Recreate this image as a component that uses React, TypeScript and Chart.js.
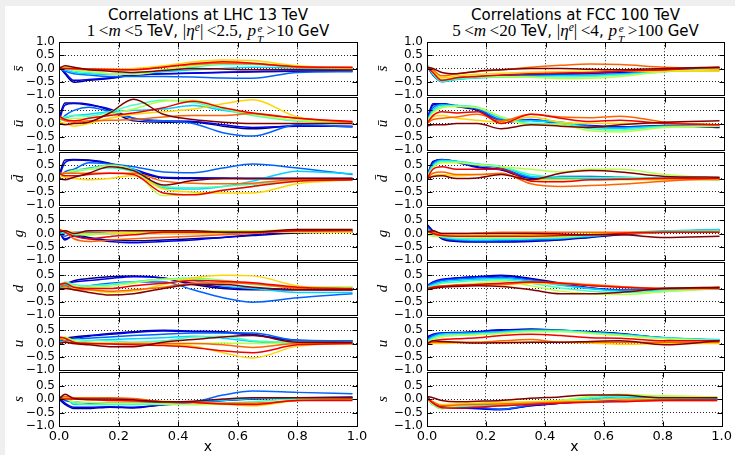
import React, { useEffect, useRef } from 'react';
import { Chart, registerables } from 'chart.js';

Chart.register(...registerables);

// ---------- data ----------
const X_VALUES = [0, 0.02, 0.05, 0.1, 0.17, 0.25, 0.35, 0.45, 0.55, 0.65, 0.8, 0.985];
const Y_TICKS = [-1, -0.5, 0, 0.5, 1];
const X_TICKS = [0, 0.2, 0.4, 0.6, 0.8, 1];
const SERIES_COLORS = ['#000080', '#0000f1', '#0063ff', '#00d5ff', '#47ffb8', '#b8ff47', '#ffd500', '#ff6300', '#f10000', '#800000'];
const PANEL_LABELS = ['s\u0304', 'u\u0304', 'd\u0304', 'g', 'd', 'u', 's'];

// LHC 13 TeV
const LHC_SBAR = [
  [0.1, -0.2, -0.52, -0.45, -0.38, -0.26, -0.2, -0.17, -0.14, -0.12, -0.1, -0.1],
  [0.05, -0.15, -0.45, -0.42, -0.35, -0.24, -0.2, -0.18, -0.15, -0.12, -0.1, -0.08],
  [0.0, -0.1, -0.2, -0.25, -0.3, -0.3, -0.3, -0.32, -0.36, -0.37, -0.15, -0.12],
  [0.0, -0.05, -0.15, -0.2, -0.22, -0.2, -0.12, -0.05, 0.0, 0.05, 0.02, -0.05],
  [0.0, 0.0, -0.1, -0.15, -0.2, -0.22, -0.08, 0.05, 0.15, 0.15, 0.05, 0.03],
  [0.0, 0.05, -0.05, -0.1, -0.2, -0.22, -0.05, 0.1, 0.2, 0.2, 0.07, 0.05],
  [0.0, 0.0, 0.0, -0.02, -0.02, 0.0, 0.1, 0.25, 0.32, 0.3, 0.1, 0.0],
  [0.0, 0.0, -0.02, -0.05, -0.05, -0.05, 0.05, 0.15, 0.2, 0.18, 0.06, 0.03],
  [0.0, 0.0, 0.0, -0.02, -0.04, -0.05, 0.05, 0.18, 0.26, 0.2, 0.07, 0.05],
  [0.0, 0.1, 0.05, -0.05, -0.1, -0.15, -0.08, 0.0, -0.02, -0.05, -0.05, -0.06],
];
const LHC_UBAR = [
  [0.2, 0.78, 0.78, 0.73, 0.5, 0.1, 0.05, 0.05, -0.1, -0.2, -0.08, -0.12],
  [0.1, 0.7, 0.76, 0.7, 0.55, 0.2, 0.1, 0.08, -0.05, -0.15, -0.1, -0.1],
  [0.05, 0.3, 0.5, 0.62, 0.45, 0.2, 0.1, 0.0, -0.35, -0.48, -0.05, -0.12],
  [0.1, 0.2, 0.3, 0.35, 0.45, 0.5, 0.55, 0.68, 0.5, 0.35, 0.1, 0.05],
  [0.2, 0.25, 0.3, 0.28, 0.45, 0.7, 0.88, 0.8, 0.55, 0.3, 0.1, 0.02],
  [0.1, 0.15, 0.2, 0.2, 0.35, 0.55, 0.85, 0.88, 0.6, 0.35, 0.12, 0.05],
  [0.05, 0.0, -0.1, 0.0, 0.2, 0.35, 0.45, 0.55, 0.75, 0.9, 0.25, 0.05],
  [0.2, 0.1, 0.05, 0.1, 0.12, 0.15, 0.25, 0.3, 0.3, 0.38, 0.2, 0.05],
  [0.3, 0.15, 0.1, 0.2, 0.3, 0.4, 0.6, 0.85, 0.6, 0.4, 0.2, 0.08],
  [0.0, -0.05, 0.0, 0.05, 0.4, 0.92, 0.35, 0.15, 0.05, 0.0, 0.0, 0.0],
];
const LHC_DBAR = [
  [0.1, 0.7, 0.72, 0.7, 0.58, 0.3, 0.02, 0.0, 0.0, 0.0, 0.0, 0.0],
  [0.05, 0.6, 0.7, 0.68, 0.55, 0.35, 0.05, 0.03, 0.02, 0.0, 0.0, 0.0],
  [0.0, 0.25, 0.35, 0.6, 0.55, 0.45, 0.25, 0.22, 0.4, 0.55, 0.4, 0.15],
  [0.1, 0.2, 0.3, 0.4, 0.5, 0.35, -0.35, -0.4, -0.3, -0.1, 0.28, 0.18],
  [0.15, 0.2, 0.25, 0.35, 0.4, 0.25, -0.3, -0.35, -0.3, -0.22, -0.1, -0.05],
  [0.1, 0.2, 0.3, 0.35, 0.5, 0.3, -0.65, -0.6, -0.45, -0.3, -0.1, -0.05],
  [0.1, 0.05, 0.0, -0.05, 0.0, 0.1, -0.4, -0.52, -0.55, -0.55, -0.2, -0.05],
  [0.2, 0.2, 0.2, 0.2, 0.2, 0.2, -0.1, -0.18, -0.2, -0.18, -0.05, -0.05],
  [0.2, 0.1, 0.1, 0.15, 0.2, 0.15, -0.55, -0.62, -0.45, -0.3, -0.1, -0.05],
  [0.0, -0.05, 0.05, 0.2, 0.45, 0.3, -0.25, -0.08, 0.0, 0.0, 0.0, 0.0],
];
const LHC_G = [
  [0.1, -0.25, -0.05, -0.15, -0.25, -0.28, -0.25, -0.2, -0.15, -0.08, 0.02, 0.05],
  [0.05, -0.2, -0.1, -0.2, -0.3, -0.35, -0.3, -0.25, -0.15, -0.05, 0.05, 0.08],
  [0.0, -0.1, 0.05, 0.05, 0.0, 0.0, 0.0, 0.0, 0.0, 0.05, 0.1, 0.1],
  [0.05, 0.0, 0.0, 0.0, 0.0, 0.05, 0.05, 0.05, 0.05, 0.05, 0.1, 0.1],
  [0.1, 0.05, -0.05, -0.05, 0.0, 0.05, 0.05, 0.05, 0.05, 0.05, 0.1, 0.1],
  [0.1, 0.1, 0.0, -0.05, 0.0, 0.05, 0.08, 0.1, 0.1, 0.1, 0.15, 0.15],
  [0.15, 0.1, 0.05, 0.0, 0.0, 0.0, 0.0, 0.0, 0.02, 0.05, 0.05, 0.05],
  [0.15, 0.05, -0.2, -0.3, -0.25, -0.2, -0.15, -0.1, -0.05, 0.0, 0.1, 0.1],
  [0.15, 0.05, -0.1, -0.2, -0.12, -0.05, 0.05, 0.05, 0.05, 0.05, 0.1, 0.12],
  [0.05, 0.1, 0.0, 0.1, 0.1, 0.1, 0.1, 0.1, 0.05, 0.05, 0.15, 0.15],
];
const LHC_D = [
  [0.05, 0.15, 0.3, 0.38, 0.45, 0.48, 0.4, 0.15, 0.0, -0.05, -0.05, -0.05],
  [0.1, 0.2, 0.25, 0.3, 0.38, 0.45, 0.4, 0.2, 0.05, 0.0, -0.03, -0.05],
  [0.0, 0.1, 0.0, 0.1, 0.2, 0.25, 0.25, -0.05, -0.35, -0.52, -0.35, -0.2],
  [0.05, 0.15, 0.05, 0.1, 0.15, 0.25, 0.35, 0.3, 0.1, 0.0, -0.15, -0.15],
  [0.1, 0.25, 0.15, 0.1, 0.15, 0.25, 0.35, 0.4, 0.3, 0.15, 0.05, 0.05],
  [0.15, 0.2, 0.1, 0.05, 0.08, 0.2, 0.35, 0.35, 0.3, 0.18, 0.05, 0.05],
  [0.0, 0.05, 0.0, -0.05, -0.15, -0.1, 0.15, 0.4, 0.5, 0.48, 0.1, 0.0],
  [0.15, 0.1, -0.05, -0.05, -0.1, -0.05, 0.05, 0.2, 0.22, 0.18, 0.0, -0.05],
  [0.15, 0.2, 0.05, 0.0, 0.0, 0.1, 0.2, 0.3, 0.28, 0.22, 0.05, 0.0],
  [0.0, 0.0, -0.05, -0.15, -0.25, -0.2, 0.0, 0.15, 0.15, 0.05, -0.05, -0.05],
];
const LHC_U = [
  [0.1, 0.2, 0.25, 0.3, 0.38, 0.45, 0.5, 0.47, 0.45, 0.35, 0.1, 0.1],
  [0.05, 0.15, 0.2, 0.28, 0.35, 0.42, 0.48, 0.45, 0.42, 0.32, 0.12, 0.08],
  [0.05, 0.1, 0.15, 0.2, 0.25, 0.3, 0.35, 0.4, 0.4, 0.4, 0.12, 0.1],
  [0.1, 0.05, 0.05, 0.1, 0.15, 0.18, 0.22, 0.28, 0.2, 0.08, 0.0, 0.05],
  [0.2, 0.15, 0.15, 0.12, 0.1, 0.05, 0.1, 0.25, 0.28, 0.1, 0.05, 0.05],
  [0.2, 0.25, 0.1, 0.05, 0.0, 0.0, 0.0, 0.0, 0.02, 0.0, 0.0, 0.0],
  [0.15, 0.2, 0.05, 0.0, 0.0, 0.0, -0.02, -0.1, -0.35, -0.55, -0.1, 0.0],
  [0.2, 0.1, 0.0, 0.0, 0.0, 0.0, 0.0, 0.0, -0.05, -0.15, 0.0, 0.0],
  [0.25, 0.2, 0.05, 0.0, -0.02, -0.05, -0.08, -0.15, -0.28, -0.35, -0.05, 0.0],
  [0.0, 0.05, 0.0, -0.05, -0.12, -0.12, 0.05, 0.15, 0.25, 0.3, 0.05, 0.05],
];
const LHC_S = [
  [0.0, -0.2, -0.35, -0.35, -0.3, -0.33, -0.2, -0.12, -0.05, 0.0, 0.05, 0.08],
  [0.05, -0.15, -0.3, -0.3, -0.28, -0.3, -0.22, -0.12, -0.05, 0.02, 0.05, 0.05],
  [0.05, -0.05, -0.1, -0.15, -0.15, -0.15, -0.12, -0.1, 0.15, 0.3, 0.25, 0.2],
  [0.05, 0.1, -0.2, -0.2, -0.2, -0.2, -0.15, -0.1, -0.05, 0.02, 0.05, 0.05],
  [0.05, 0.05, -0.15, -0.2, -0.2, -0.2, -0.2, -0.2, -0.15, -0.1, 0.0, 0.0],
  [0.0, 0.0, -0.1, -0.12, -0.15, -0.15, -0.18, -0.2, -0.2, -0.18, -0.05, 0.0],
  [0.0, 0.05, 0.0, -0.02, -0.05, -0.05, -0.08, -0.12, -0.18, -0.25, -0.05, 0.0],
  [0.0, 0.1, 0.05, 0.05, 0.05, 0.02, -0.1, -0.12, -0.15, -0.15, -0.05, 0.0],
  [0.0, 0.0, 0.0, -0.02, -0.05, -0.07, -0.1, -0.13, -0.18, -0.2, -0.05, -0.05],
  [0.0, 0.18, 0.02, 0.0, 0.0, -0.02, -0.1, -0.08, 0.0, 0.05, 0.05, 0.05],
];

// FCC 100 TeV
const FCC_SBAR = [
  [0.1, -0.2, -0.45, -0.35, -0.3, -0.27, -0.22, -0.2, -0.17, -0.12, -0.08, -0.05],
  [0.1, -0.25, -0.48, -0.38, -0.32, -0.28, -0.25, -0.22, -0.18, -0.15, -0.08, -0.03],
  [0.1, -0.25, -0.5, -0.4, -0.35, -0.3, -0.27, -0.25, -0.25, -0.2, -0.1, 0.0],
  [0.15, -0.2, -0.5, -0.42, -0.35, -0.32, -0.3, -0.28, -0.27, -0.22, -0.1, 0.0],
  [0.15, -0.2, -0.48, -0.4, -0.35, -0.33, -0.32, -0.32, -0.3, -0.25, -0.12, -0.03],
  [0.1, -0.15, -0.42, -0.35, -0.3, -0.3, -0.33, -0.38, -0.37, -0.3, -0.12, -0.05],
  [0.05, -0.1, -0.35, -0.28, -0.22, -0.18, -0.14, -0.12, -0.1, -0.1, -0.1, -0.1],
  [0.05, -0.05, -0.28, -0.2, -0.12, -0.05, 0.05, 0.12, 0.17, 0.15, 0.05, 0.0],
  [0.05, -0.15, -0.45, -0.35, -0.3, -0.25, -0.2, -0.17, -0.15, -0.1, -0.05, 0.05],
  [0.05, 0.0, -0.15, -0.2, -0.1, -0.05, 0.0, 0.0, -0.03, -0.05, 0.0, 0.05],
];
const FCC_UBAR = [
  [0.1, 0.7, 0.75, 0.65, 0.5, 0.05, 0.12, -0.02, -0.1, -0.12, -0.08, -0.15],
  [0.15, 0.75, 0.75, 0.68, 0.55, 0.1, 0.15, 0.0, -0.08, -0.12, -0.1, -0.12],
  [0.1, 0.6, 0.72, 0.65, 0.55, 0.15, 0.12, 0.05, -0.1, -0.15, -0.1, -0.1],
  [0.1, 0.5, 0.7, 0.68, 0.6, 0.2, 0.1, 0.05, -0.15, -0.18, -0.1, -0.1],
  [0.05, 0.45, 0.65, 0.68, 0.62, 0.25, 0.0, 0.0, -0.2, -0.25, -0.12, -0.1],
  [0.05, 0.4, 0.6, 0.65, 0.6, 0.25, -0.05, -0.05, -0.28, -0.32, -0.15, -0.1],
  [0.0, 0.25, 0.3, 0.2, 0.12, 0.05, 0.25, 0.05, 0.0, 0.0, 0.0, -0.05],
  [0.0, 0.15, 0.2, 0.25, 0.35, 0.1, 0.35, 0.25, 0.22, 0.28, 0.05, -0.05],
  [0.0, 0.3, 0.45, 0.4, 0.45, 0.0, 0.35, 0.2, 0.08, 0.12, 0.0, -0.05],
  [-0.1, -0.05, -0.05, 0.0, 0.0, -0.2, -0.05, -0.1, -0.15, -0.05, 0.05, 0.1],
];
const FCC_DBAR = [
  [0.05, 0.65, 0.7, 0.65, 0.45, 0.32, 0.0, 0.05, 0.05, 0.03, 0.0, 0.0],
  [0.1, 0.6, 0.72, 0.62, 0.42, 0.35, 0.02, 0.08, 0.08, 0.05, 0.0, 0.0],
  [0.1, 0.55, 0.7, 0.65, 0.5, 0.4, 0.05, 0.05, 0.03, 0.0, 0.0, 0.0],
  [0.1, 0.5, 0.68, 0.66, 0.55, 0.45, 0.08, 0.0, 0.0, 0.0, -0.02, -0.05],
  [0.05, 0.45, 0.65, 0.65, 0.55, 0.45, 0.15, 0.05, 0.05, 0.05, 0.0, -0.05],
  [0.05, 0.4, 0.6, 0.6, 0.52, 0.45, 0.35, 0.25, 0.35, 0.35, 0.15, 0.0],
  [0.0, 0.1, 0.15, 0.1, 0.15, 0.18, -0.05, -0.05, -0.05, -0.05, -0.05, -0.05],
  [0.0, 0.2, 0.25, 0.15, 0.15, 0.2, -0.2, -0.3, -0.27, -0.22, -0.1, 0.0],
  [0.0, 0.35, 0.45, 0.35, 0.35, 0.35, -0.1, -0.12, -0.05, -0.03, 0.0, 0.0],
  [0.0, 0.08, 0.1, 0.0, 0.02, 0.15, -0.05, 0.2, 0.3, 0.25, 0.08, 0.05],
];
const FCC_G = [
  [0.35, 0.1, -0.2, -0.3, -0.32, -0.32, -0.3, -0.25, -0.15, -0.05, 0.05, 0.1],
  [0.3, 0.05, -0.15, -0.28, -0.3, -0.3, -0.28, -0.22, -0.12, -0.03, 0.08, 0.12],
  [0.25, 0.05, -0.15, -0.25, -0.28, -0.27, -0.25, -0.2, -0.1, -0.02, 0.08, 0.12],
  [0.2, 0.0, -0.12, -0.22, -0.25, -0.23, -0.2, -0.18, -0.1, 0.0, 0.1, 0.15],
  [0.1, -0.05, -0.12, -0.18, -0.2, -0.2, -0.18, -0.15, -0.08, 0.0, 0.08, 0.1],
  [-0.05, -0.1, -0.1, -0.12, -0.15, -0.15, -0.15, -0.12, -0.05, 0.0, 0.05, 0.05],
  [0.05, 0.0, -0.05, -0.08, -0.08, -0.08, -0.05, -0.05, -0.02, 0.0, 0.05, 0.05],
  [0.1, 0.05, 0.0, 0.0, 0.02, 0.05, 0.05, 0.05, 0.05, 0.05, 0.05, 0.05],
  [0.1, 0.0, -0.08, -0.1, -0.1, -0.1, -0.1, -0.08, -0.05, 0.0, 0.05, 0.05],
  [0.05, 0.1, 0.0, 0.0, 0.0, 0.0, 0.0, -0.02, -0.05, -0.05, -0.15, -0.1],
];
const FCC_D = [
  [0.1, 0.2, 0.32, 0.4, 0.45, 0.5, 0.38, 0.2, 0.02, -0.05, 0.0, 0.02],
  [0.1, 0.25, 0.35, 0.4, 0.45, 0.48, 0.35, 0.18, 0.02, -0.05, 0.0, 0.0],
  [0.1, 0.2, 0.3, 0.35, 0.4, 0.42, 0.32, 0.15, 0.0, -0.05, 0.0, 0.0],
  [0.05, 0.15, 0.25, 0.3, 0.35, 0.38, 0.28, 0.12, 0.0, -0.1, -0.05, 0.0],
  [0.05, 0.1, 0.2, 0.25, 0.3, 0.33, 0.2, 0.02, -0.1, -0.15, -0.1, 0.0],
  [0.0, 0.05, 0.1, 0.15, 0.2, 0.28, 0.1, -0.1, -0.2, -0.23, -0.12, 0.0],
  [0.0, 0.05, 0.1, 0.12, 0.15, 0.15, 0.2, 0.18, 0.12, 0.05, 0.0, 0.02],
  [-0.05, 0.05, 0.1, 0.12, 0.15, 0.15, 0.25, 0.22, 0.15, 0.08, 0.0, 0.05],
  [0.0, 0.05, 0.08, 0.12, 0.15, 0.2, 0.25, 0.2, 0.1, 0.05, 0.0, 0.0],
  [-0.05, 0.0, 0.05, 0.08, 0.1, 0.08, -0.05, -0.2, -0.2, -0.15, 0.0, 0.05],
];
const FCC_U = [
  [0.2, 0.3, 0.4, 0.42, 0.45, 0.5, 0.55, 0.5, 0.45, 0.38, 0.2, 0.1],
  [0.25, 0.35, 0.4, 0.4, 0.45, 0.52, 0.52, 0.5, 0.42, 0.35, 0.2, 0.12],
  [0.15, 0.3, 0.38, 0.38, 0.42, 0.45, 0.5, 0.48, 0.42, 0.35, 0.22, 0.12],
  [0.1, 0.25, 0.35, 0.38, 0.4, 0.45, 0.5, 0.5, 0.42, 0.35, 0.22, 0.15],
  [0.05, 0.2, 0.3, 0.32, 0.35, 0.4, 0.48, 0.48, 0.4, 0.32, 0.2, 0.12],
  [0.05, 0.15, 0.25, 0.3, 0.33, 0.38, 0.45, 0.45, 0.38, 0.3, 0.18, 0.1],
  [0.0, 0.0, 0.0, 0.02, 0.05, 0.05, 0.05, 0.05, 0.02, -0.03, 0.0, 0.0],
  [0.0, 0.05, 0.05, 0.05, 0.05, 0.1, 0.15, 0.05, 0.05, 0.05, 0.05, 0.05],
  [0.0, 0.1, 0.15, 0.18, 0.22, 0.3, 0.35, 0.3, 0.22, 0.2, 0.1, 0.1],
  [0.0, 0.1, 0.08, 0.05, 0.02, 0.03, 0.05, 0.05, 0.08, 0.1, -0.05, 0.1],
];
const FCC_S = [
  [0.1, -0.15, -0.28, -0.32, -0.35, -0.38, -0.25, -0.15, -0.08, -0.03, 0.0, 0.0],
  [0.05, -0.2, -0.3, -0.33, -0.35, -0.4, -0.25, -0.15, -0.08, -0.02, 0.0, 0.0],
  [0.05, -0.2, -0.32, -0.3, -0.3, -0.38, -0.22, -0.12, -0.05, 0.0, 0.0, 0.0],
  [0.05, -0.2, -0.35, -0.28, -0.25, -0.25, -0.15, -0.08, 0.0, 0.08, 0.05, 0.05],
  [0.05, -0.2, -0.35, -0.28, -0.22, -0.2, -0.12, -0.05, 0.05, 0.12, 0.1, 0.08],
  [0.0, -0.2, -0.35, -0.25, -0.2, -0.18, -0.12, -0.05, 0.1, 0.18, 0.12, 0.08],
  [0.0, -0.1, -0.2, -0.18, -0.15, -0.12, -0.1, -0.07, -0.05, 0.0, 0.02, 0.05],
  [0.0, -0.1, -0.25, -0.22, -0.2, -0.18, -0.15, -0.12, -0.1, -0.07, -0.05, -0.05],
  [0.05, -0.15, -0.32, -0.33, -0.3, -0.25, -0.2, -0.15, -0.12, -0.1, -0.05, -0.05],
  [0.1, 0.05, -0.05, -0.1, -0.08, -0.05, 0.03, 0.08, 0.15, 0.15, 0.05, 0.05],
];

const LHC_PANELS = [LHC_SBAR, LHC_UBAR, LHC_DBAR, LHC_G, LHC_D, LHC_U, LHC_S];
const FCC_PANELS = [FCC_SBAR, FCC_UBAR, FCC_DBAR, FCC_G, FCC_D, FCC_U, FCC_S];

// ---------- layout ----------
const COLS = [
  { canvasLeft: 0, chartLeft: 59, chartRight: 357, padRight: 14, titlePad: 10 },
  { canvasLeft: 369, chartLeft: 427, chartRight: 724, padRight: 11, titlePad: 5 },
];
const FIRST_TOP = 41;
const PANEL_H = 55;
const PAD_V = 10;
const FIG_H = 455;

const SANS = '"DejaVu Sans", sans-serif';
const SERIF = '"Liberation Serif", "DejaVu Serif", serif';

const fmt = (v: number) => (v < 0 ? '\u2212' : '') + Math.abs(v).toFixed(1);

const framePlugin = {
  id: 'frame',
  afterDatasetsDraw(chart: any) {
    const { ctx, chartArea: a, scales } = chart;
    const L = Math.round(a.left) + 0.5;
    const R = Math.round(a.right) + 0.5;
    const T = Math.round(a.top) + 0.5;
    const B = Math.round(a.bottom) + 0.5;
    ctx.save();
    ctx.strokeStyle = '#000';
    ctx.lineWidth = 1;
    ctx.setLineDash([]);
    ctx.strokeRect(L, T, R - L, B - T);
    ctx.beginPath();
    [-0.5, 0, 0.5].forEach((v) => {
      const y = Math.round(scales.y.getPixelForValue(v)) + 0.5;
      ctx.moveTo(L, y); ctx.lineTo(L + 5, y);
      ctx.moveTo(R, y); ctx.lineTo(R - 5, y);
    });
    [0.2, 0.4, 0.6, 0.8].forEach((v) => {
      const x = Math.round(scales.x.getPixelForValue(v)) + 0.5;
      ctx.moveTo(x, T); ctx.lineTo(x, T + 5);
      ctx.moveTo(x, B); ctx.lineTo(x, B - 5);
    });
    ctx.stroke();
    ctx.restore();
  },
};

function Panel({ series, row, col }: { series: number[][]; row: number; col: number }) {
  const ref = useRef<HTMLCanvasElement | null>(null);
  const g = COLS[col];
  const isTop = row === 0;
  const isBottom = row === 6;
  const top = FIRST_TOP + PANEL_H * row - PAD_V;
  const height = isBottom ? FIG_H - top : PANEL_H + 2 * PAD_V;
  const width = g.chartRight + g.padRight - g.canvasLeft;

  useEffect(() => {
    const chart = new Chart(ref.current as HTMLCanvasElement, {
      type: 'line',
      data: {
        datasets: series.map((ys, k) => ({
          data: ys.map((y, i) => ({ x: X_VALUES[i], y })),
          borderColor: SERIES_COLORS[k],
          borderWidth: 1.5,
          pointRadius: 0,
          fill: false,
          cubicInterpolationMode: 'monotone',
          order: SERIES_COLORS.length - k,
        })),
      },
      options: {
        responsive: false,
        animation: false,
        events: [],
        layout: { padding: { top: PAD_V, bottom: isBottom ? 0 : PAD_V, left: 0, right: g.padRight } },
        plugins: { legend: { display: false }, tooltip: { enabled: false }, title: { display: false } },
        scales: {
          x: {
            type: 'linear',
            min: 0,
            max: 1,
            afterBuildTicks: (s: any) => { s.ticks = X_TICKS.map((v) => ({ value: v })); },
            afterFit: (s: any) => { s.height = isBottom ? height - PAD_V - PANEL_H : 0; },
            ticks: {
              display: isBottom,
              autoSkip: false,
              maxRotation: 0,
              padding: 3,
              color: '#000',
              font: { family: SANS, size: 13 },
              callback: (v: any) => fmt(Number(v)),
            },
            grid: {
              drawTicks: false,
              lineWidth: 1,
              color: (c: any) => (c.tick && (c.tick.value === 0 || c.tick.value === 1) ? 'rgba(0,0,0,0)' : 'rgba(0,0,0,0.85)'),
            },
            border: { display: false, dash: [1, 2] },
            title: { display: isBottom, text: 'x', color: '#000', font: { family: SANS, size: 14 }, padding: { top: 0, bottom: -1 } },
          },
          y: {
            min: -1,
            max: 1,
            afterBuildTicks: (s: any) => { s.ticks = Y_TICKS.map((v) => ({ value: v })); },
            afterFit: (s: any) => { s.width = g.chartLeft - g.canvasLeft; },
            ticks: {
              autoSkip: false,
              padding: 4,
              color: '#000',
              font: { family: SANS, size: 12 },
              callback: (v: any) => (Number(v) === 1 && !isTop ? '' : fmt(Number(v))),
            },
            grid: {
              drawTicks: false,
              lineWidth: 1,
              color: (c: any) => (c.tick && Math.abs(c.tick.value) === 1 ? 'rgba(0,0,0,0)' : 'rgba(0,0,0,0.85)'),
            },
            border: { display: false, dash: [1, 2] },
            title: {
              display: true,
              text: PANEL_LABELS[row],
              color: '#000',
              font: { family: SERIF, style: 'italic', size: 15 },
              padding: { top: g.titlePad, bottom: 0 },
            },
          },
        },
      } as any,
      plugins: [framePlugin],
    });
    return () => chart.destroy();
  }, []);

  return (
    <canvas
      ref={ref}
      width={width}
      height={height}
      style={{ position: 'absolute', left: g.canvasLeft, top, width, height, display: 'block' }}
    />
  );
}

const mathS: React.CSSProperties = { fontFamily: SERIF, fontSize: '1.14em' };
const supS: React.CSSProperties = { fontSize: '0.68em', verticalAlign: '0.45em', lineHeight: 0 };

function PTe() {
  return (
    <span style={mathS}>
      <i>p</i>
      <span style={{ display: 'inline-flex', flexDirection: 'column', fontSize: '0.65em', lineHeight: 1, verticalAlign: '0.4em', marginLeft: 1 }}>
        <i>e</i>
        <i>T</i>
      </span>
    </span>
  );
}

function Subtitle({ m1, m2, eta, pt }: { m1: string; m2: string; eta: string; pt: string }) {
  const t = '\u2009';
  return (
    <>
      <span style={mathS}>{m1}{t}&lt;<i>m</i>{t}&lt;{m2}</span> TeV,{' '}
      <span style={mathS}>|<i>η</i><sup style={supS}><i>e</i></sup>|{t}&lt;{eta}</span>,{' '}
      <PTe /><span style={mathS}>{t}&gt;{pt}</span> GeV
    </>
  );
}

function Title({ col, line1, children }: { col: number; line1: string; children: React.ReactNode }) {
  const g = COLS[col];
  const w = g.chartRight - g.chartLeft;
  const base: React.CSSProperties = {
    position: 'absolute',
    left: g.chartLeft - 20,
    width: w + 40,
    textAlign: 'center',
    fontFamily: SANS,
    fontSize: 15,
    color: '#000',
    whiteSpace: 'nowrap',
    lineHeight: '18px',
  };
  return (
    <>
      <div style={{ ...base, top: 6 }}>{line1}</div>
      <div style={{ ...base, top: 22 }}>{children}</div>
    </>
  );
}

export default function App() {
  return (
    <div style={{ position: 'absolute', left: 0, top: 0, width: 735, height: 455, background: '#efefef', overflow: 'hidden' }}>
      <div style={{ position: 'absolute', left: 5, top: 6, width: 730, height: 449, background: '#fff' }} />
      <Title col={0} line1="Correlations at LHC 13 TeV">
        <Subtitle m1="1" m2="5" eta="2.5" pt="10" />
      </Title>
      <Title col={1} line1="Correlations at FCC 100 TeV">
        <Subtitle m1="5" m2="20" eta="4" pt="100" />
      </Title>
      {LHC_PANELS.map((s, r) => (
        <Panel key={'l' + r} series={s} row={r} col={0} />
      ))}
      {FCC_PANELS.map((s, r) => (
        <Panel key={'f' + r} series={s} row={r} col={1} />
      ))}
    </div>
  );
}
